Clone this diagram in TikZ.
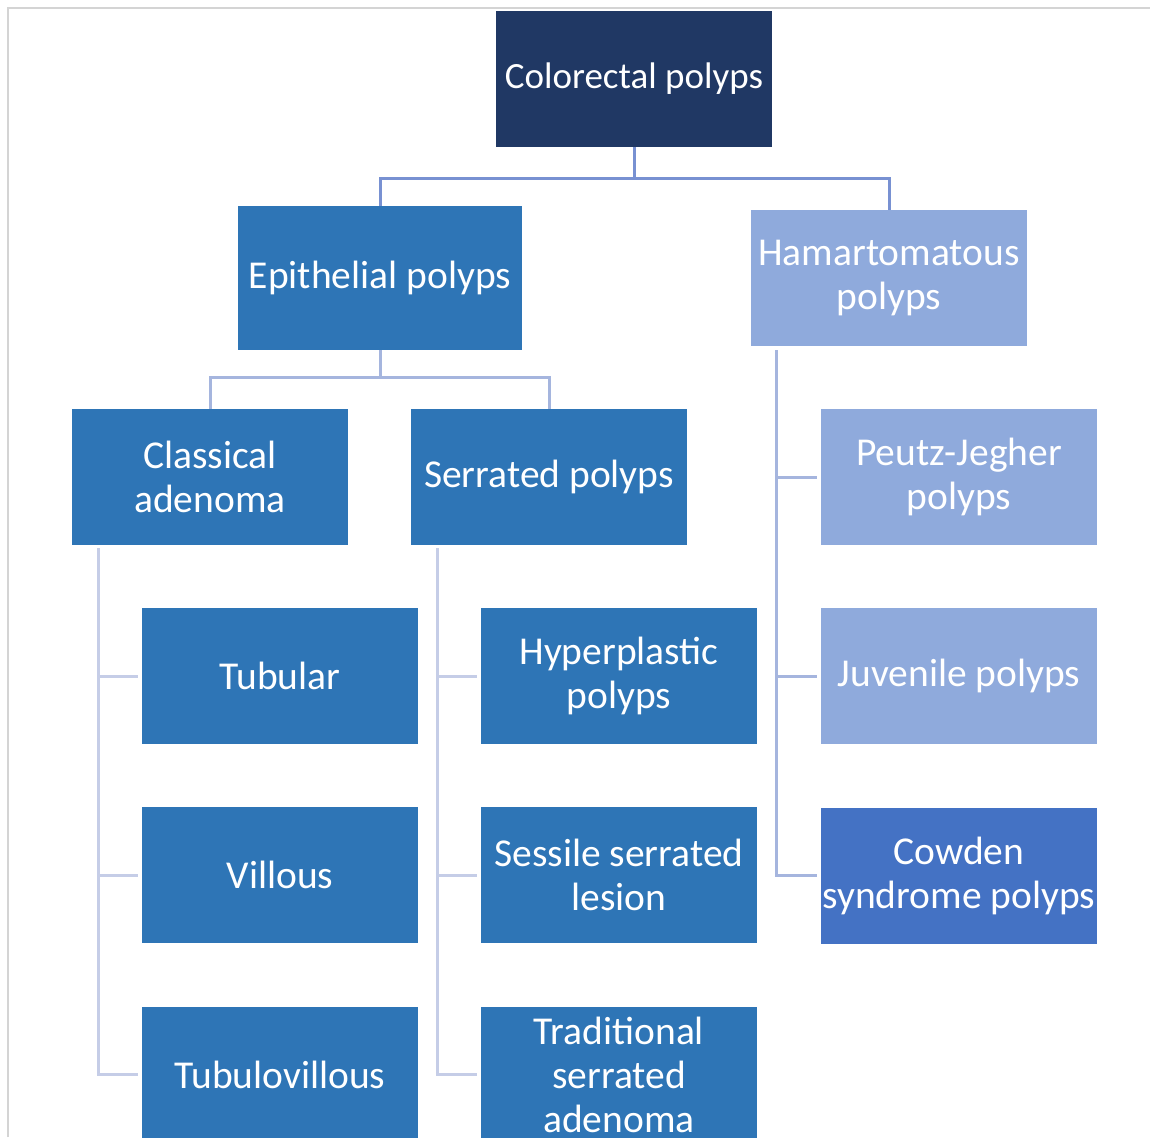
\documentclass[tikz,border=0pt]{standalone}
\usepackage{fontspec}
\setmainfont{Carlito}
\usetikzlibrary{positioning}

\definecolor{navy}{HTML}{203864}
\definecolor{midblue}{HTML}{2E75B6}
\definecolor{paleblue}{HTML}{8FAADC}
\definecolor{cowdenblue}{HTML}{4472C4}
\definecolor{linkA}{HTML}{7891D2}
\definecolor{linkB}{HTML}{A5B5DE}
\definecolor{linkC}{HTML}{C5CDE7}
\definecolor{framegray}{HTML}{D4D4D4}

\begin{document}
\begin{tikzpicture}[
    x=1pt, y=-1pt,
    box/.style={
      fill=midblue,
      text=white,
      align=center,
      inner sep=0pt,
      minimum width=276pt,
      minimum height=136pt,
      font=\fontsize{39.5}{44}\selectfont
    },
    rootbox/.style={box, fill=navy, font=\fontsize{37}{44}\selectfont},
    hambox/.style={box, fill=paleblue},
    cowbox/.style={box, fill=cowdenblue},
    toplink/.style={draw=linkA, line width=3pt},
    midlink/.style={draw=linkB, line width=3pt},
    raillink/.style={draw=linkC, line width=3pt},
    hamlink/.style={draw=linkB, line width=3pt}
  ]

  \useasboundingbox (0,0) rectangle (1150,1137);
  \draw[framegray, line width=2pt] (8,1137) -- (8,8) -- (1150,8);

  % ===================== top level =====================
  \node[rootbox] (root) at (634,79) {Colorectal polyps};
  \node[box, minimum width=284pt, minimum height=144pt] (epi) at (380,278) {Epithelial polyps};
  \node[hambox] (hamar) at (889,278) {Hamartomatous\\polyps};

  % ===================== epithelial branch =====================
  \node[box] (classical) at (210,477) {Classical\\adenoma};
  \node[box] (serrated) at (549,477) {Serrated polyps};

  \node[box] (tubular) at (280,676) {Tubular};
  \node[box, below=63pt of tubular] (villous) {Villous};
  \node[box, below=63pt of villous] (tubvil) {Tubulovillous};

  \node[box] (hyper) at (619,676) {Hyperplastic\\polyps};
  \node[box, below=63pt of hyper] (sessile) {Sessile serrated\\lesion};
  \node[box, below=63pt of sessile] (trad) {Traditional\\serrated\\adenoma};

  % ===================== hamartomatous branch =====================
  \node[hambox] (peutz) at (959,477) {Peutz-Jegher\\polyps};
  \node[hambox, below=63pt of peutz] (juvenile) {Juvenile polyps};
  \node[cowbox, below=63pt of juvenile] (cowden) {Cowden\\syndrome polyps};

  % ===================== connectors =====================
  \draw[toplink] (root.south) -- ++(0,31) -| (epi.north);
  \draw[toplink] (root.south) -- ++(0,31) -| (hamar.north);

  \draw[midlink] (epi.south) -- ++(0,27) -| (classical.north);
  \draw[midlink] (epi.south) -- ++(0,27) -| (serrated.north);

  \foreach \kid in {tubular, villous, tubvil}
    \draw[raillink] ([xshift=27pt, yshift=-3pt]classical.south west) |- ([xshift=-4pt]\kid.west);
  \foreach \kid in {hyper, sessile, trad}
    \draw[raillink] ([xshift=27pt, yshift=-3pt]serrated.south west) |- ([xshift=-4pt]\kid.west);
  \foreach \kid in {peutz, juvenile, cowden}
    \draw[hamlink] ([xshift=26pt, yshift=-4pt]hamar.south west) |- ([xshift=-4pt]\kid.west);

\end{tikzpicture}
\end{document}
